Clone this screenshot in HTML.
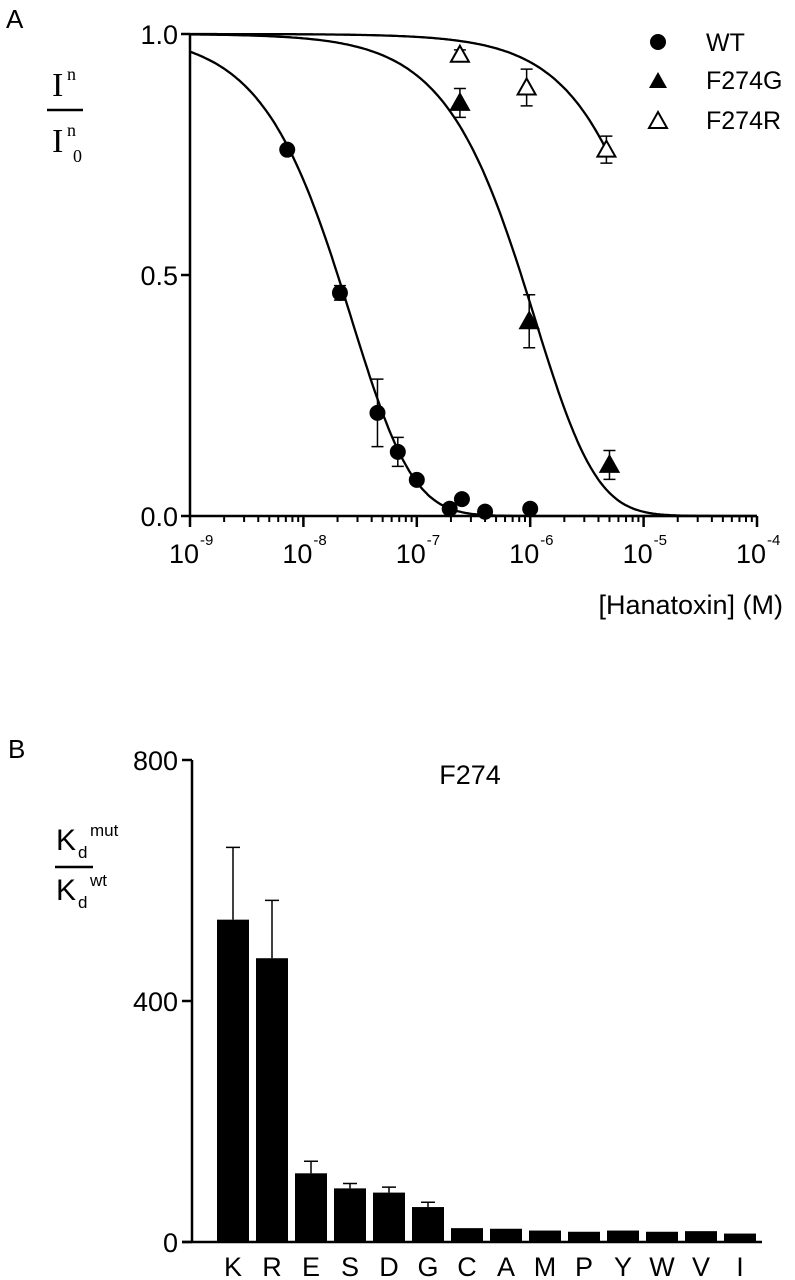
<!DOCTYPE html>
<html><head><meta charset="utf-8"><style>
body{margin:0;background:#fff;}
svg{display:block;font-family:"Liberation Sans",sans-serif;}
</style></head><body>
<svg id="fig" width="795" height="1280" viewBox="0 0 795 1280" xmlns="http://www.w3.org/2000/svg">
<text x="6" y="28" font-size="26">A</text>
<text x="8" y="758" font-size="26">B</text>
<g font-family="Liberation Serif, serif" font-size="34">
<text x="52" y="96">I</text><text x="67" y="80" font-size="18">n</text>
<line x1="47" y1="110" x2="83" y2="110" stroke="#000" stroke-width="2.5"/>
<text x="52" y="152">I</text><text x="67" y="136" font-size="18">n</text><text x="73" y="162" font-size="18">0</text>
</g>
<g font-size="30">
<text x="56" y="850">K</text><text x="78" y="858" font-size="17">d</text><text x="90" y="836" font-size="17">mut</text>
<line x1="55" y1="867" x2="93" y2="867" stroke="#000" stroke-width="2.5"/>
<text x="56" y="900">K</text><text x="78" y="908" font-size="17">d</text><text x="90" y="886" font-size="17">wt</text>
</g>
<text x="470" y="784" font-size="27" text-anchor="middle">F274</text>
<text x="783" y="614" font-size="27" text-anchor="end">[Hanatoxin] (M)</text>
<g id="gA"></g><g id="gB"></g>
<g font-size="25">
<g><circle cx="658" cy="42" r="8" fill="#000"/><text x="706" y="51">WT</text></g>
<g><polygon points="658,72 667,88 649,88" fill="#000"/><text x="706" y="89">F274G</text></g>
<g><polygon points="658,112 667,128 649,128" fill="#fff" stroke="#000" stroke-width="2"/><text x="706" y="129">F274R</text></g>
</g>
</svg>
<script>
// Panel A data
const wtX=[7.2e-9,2.1e-8,4.5e-8,6.8e-8,1e-7,1.95e-7,2.5e-7,4e-7,1e-6];
const wtY=[0.76,0.463,0.214,0.133,0.075,0.015,0.035,0.009,0.015];
const wtErr=[0,0.015,0.07,0.03,0,0,0,0,0];
const gX=[2.4e-7,9.8e-7,5e-6];
const gY=[0.857,0.404,0.106];
const gErr=[0.03,0.055,0.03];
const rX=[2.4e-7,9.3e-7,4.7e-6];
const rY=[0.957,0.889,0.76];
const rErr=[0.01,0.038,0.028];
const fitKd=[1.06e-7,4.4e-6,6.6e-5];
const fitXmax=[1e-4,1e-4,4.7e-6];
const yTicksA=[0,0.5,1.0];
const yTickLabelsA=["0.0","0.5","1.0"];
const xDecades=[-9,-8,-7,-6,-5,-4];
// Panel B data
const cats=["K","R","E","S","D","G","C","A","M","P","Y","W","V","I"];
const vals=[535,471,114,89,82,58,23,22,19,17,19,17,18,14];
const errs=[120,96,20,8,9,8,1,1,1,1,1,1,1,1];
const yTicksB=[0,400,800];

const NS="http://www.w3.org/2000/svg";
function mk(t,a,p){const e=document.createElementNS(NS,t);for(const k in a)e.setAttribute(k,a[k]);p.appendChild(e);return e;}
const gA=document.getElementById('gA'),gB=document.getElementById('gB');
const ax0=190,ax1=757,ay0=516,ay1=34;
const sx=v=>ax0+(Math.log10(v)+9)/5*(ax1-ax0);
const sy=v=>ay0-v*(ay0-ay1);
let e;
e=mk('line',{x1:ax0,y1:ay1,x2:ax0,y2:ay0,stroke:'#000','stroke-width':2.5},gA);

e=mk('line',{x1:ax0,y1:ay0,x2:ax1,y2:ay0,stroke:'#000','stroke-width':2.5},gA);

yTicksA.forEach((v,i)=>{mk('line',{x1:ax0-9,y1:sy(v),x2:ax0,y2:sy(v),stroke:'#000','stroke-width':2.5},gA);
e=mk('text',{x:ax0-12,y:sy(v)+10,'font-size':27,'text-anchor':'end'},gA);e.textContent=yTickLabelsA[i];
});
xDecades.forEach(d=>{const x=sx(Math.pow(10,d));mk('line',{x1:x,y1:ay0,x2:x,y2:ay0+11,stroke:'#000','stroke-width':2.5},gA);
e=mk('text',{x:x-6,y:ay0+47,'font-size':27,'text-anchor':'middle'},gA);e.textContent='10';

const s=mk('text',{x:x+10,y:ay0+29,'font-size':15},gA);s.textContent=String(d);
if(d<-4)for(let m=2;m<=9;m++){const xm=sx(m*Math.pow(10,d));mk('line',{x1:xm,y1:ay0,x2:xm,y2:ay0+6,stroke:'#000','stroke-width':2},gA);}});
fitKd.forEach((K,i)=>{let p='';const lm=Math.log10(fitXmax[i]);for(let k=0;k<=300;k++){const x=Math.pow(10,-9+(lm+9)*k/300);const y=Math.pow(K/(x+K),4);p+=(k?'L':'M')+sx(x).toFixed(1)+','+sy(y).toFixed(1);}
e=mk('path',{d:p,fill:'none',stroke:'#000','stroke-width':2.3},gA);});
function errbar(x,y,er){if(!er)return;const X=sx(x);mk('path',{d:`M${X},${sy(y+er)}V${sy(y-er)}M${X-6},${sy(y+er)}H${X+6}M${X-6},${sy(y-er)}H${X+6}`,stroke:'#000','stroke-width':1.5,fill:'none'},gA);}
wtX.forEach((x,i)=>{errbar(x,wtY[i],wtErr[i]);e=mk('circle',{cx:sx(x),cy:sy(wtY[i]),r:8,fill:'#000'},gA);
});
function tri(x,y,fill){const X=sx(x),Y=sy(y);return mk('polygon',{points:`${X},${Y-9} ${X+9},${Y+7} ${X-9},${Y+7}`,fill:fill,stroke:'#000','stroke-width':2},gA);}
gX.forEach((x,i)=>{errbar(x,gY[i],gErr[i]);e=tri(x,gY[i],'#000');});
rX.forEach((x,i)=>{errbar(x,rY[i],rErr[i]);e=tri(x,rY[i],'#fff');});
// Panel B
const bx0=192,bx1=762,by0=1242,by1=760;
const by=v=>by0-v/800*(by0-by1);
const step=39,first=233,bw=32;
e=mk('line',{x1:bx0,y1:by1,x2:bx0,y2:by0,stroke:'#000','stroke-width':2.5},gB);

e=mk('line',{x1:bx0-10,y1:by0,x2:bx1,y2:by0,stroke:'#000','stroke-width':2.5},gB);

yTicksB.forEach(v=>{mk('line',{x1:bx0-10,y1:by(v),x2:bx0,y2:by(v),stroke:'#000','stroke-width':2.5},gB);
e=mk('text',{x:bx0-14,y:by(v)+10,'font-size':27,'text-anchor':'end'},gB);e.textContent=String(v);
});
cats.forEach((c,i)=>{const cx=first+i*step;
e=mk('rect',{x:cx-bw/2,y:by(vals[i]),width:bw,height:by0-by(vals[i]),fill:'#000'},gB);

if(errs[i]>2)mk('path',{d:`M${cx},${by(vals[i])}V${by(vals[i]+errs[i])}M${cx-7},${by(vals[i]+errs[i])}H${cx+7}`,stroke:'#000','stroke-width':1.5,fill:'none'},gB);
e=mk('text',{x:cx,y:1276,'font-size':27,'text-anchor':'middle'},gB);e.textContent=c;
});
</script>
</body></html>
